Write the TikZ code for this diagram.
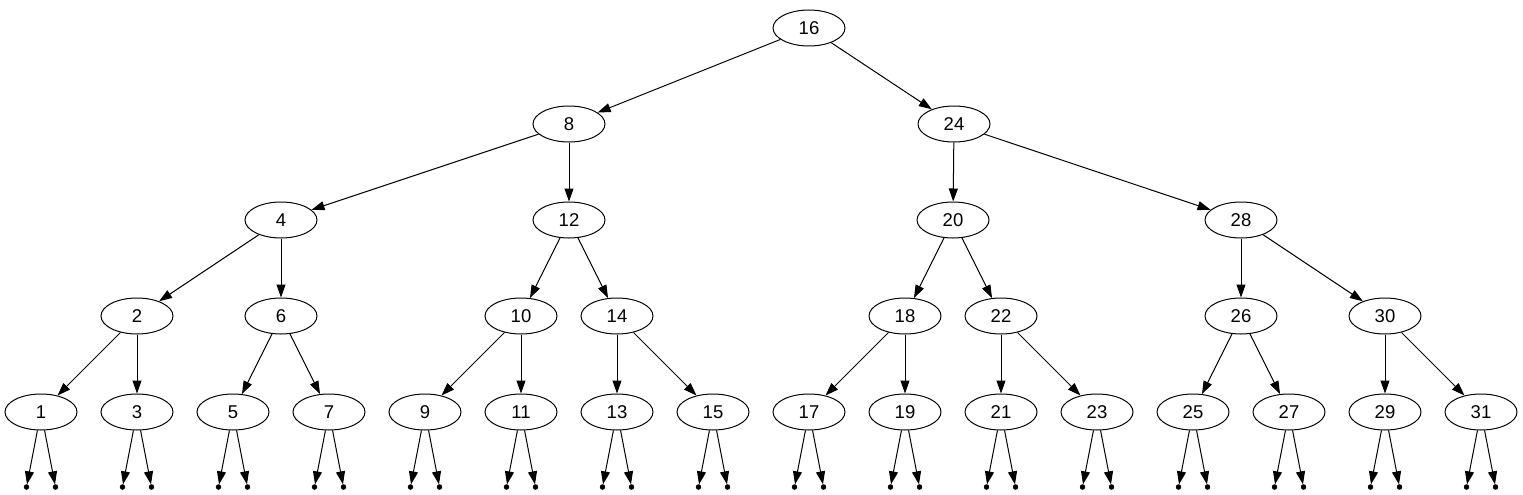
\documentclass[tikz,border=0pt]{standalone}
\usepackage{fontspec}
\setmainfont{Liberation Sans}
\usetikzlibrary{arrows.meta,shapes.geometric}

\tikzset{
  key/.style={ellipse, draw, line width=1pt, minimum width=72pt, minimum height=36pt, inner sep=0pt, font=\fontsize{18.5pt}{21pt}\selectfont},
  nil/.style={circle, fill, draw, inner sep=0pt, minimum size=5pt},
  edge/.style={line width=1pt, -{Triangle[length=13pt,width=9pt]}}
}

\begin{document}
\begin{tikzpicture}[x=1pt, y=1pt]
\useasboundingbox (0,0) rectangle (1523,-495);

% root and inner keys
\node[key] (n16) at (809,-28) {16};

\node[key] (n8) at (569,-124) {8};
\node[key] (n24) at (954,-124) {24};

\node[key] (n4) at (281,-220) {4};
\node[key] (n12) at (569,-220) {12};
\node[key] (n20) at (953,-220) {20};
\node[key] (n28) at (1241,-220) {28};

\node[key] (n2) at (137,-316) {2};
\node[key] (n6) at (281,-316) {6};
\node[key] (n10) at (521,-316) {10};
\node[key] (n14) at (617,-316) {14};
\node[key] (n18) at (905,-316) {18};
\node[key] (n22) at (1001,-316) {22};
\node[key] (n26) at (1241,-316) {26};
\node[key] (n30) at (1385,-316) {30};

\node[key] (n1) at (41,-412) {1};
\node[key] (n3) at (137,-412) {3};
\node[key] (n5) at (233,-412) {5};
\node[key] (n7) at (329,-412) {7};
\node[key] (n9) at (425,-412) {9};
\node[key] (n11) at (521,-412) {11};
\node[key] (n13) at (617,-412) {13};
\node[key] (n15) at (713,-412) {15};
\node[key] (n17) at (809,-412) {17};
\node[key] (n19) at (905,-412) {19};
\node[key] (n21) at (1001,-412) {21};
\node[key] (n23) at (1097,-412) {23};
\node[key] (n25) at (1193,-412) {25};
\node[key] (n27) at (1289,-412) {27};
\node[key] (n29) at (1385,-412) {29};
\node[key] (n31) at (1481,-412) {31};

\draw[edge] (n16) -- (n8);
\draw[edge] (n16) -- (n24);

\draw[edge] (n8) -- (n4);
\draw[edge] (n8) -- (n12);
\draw[edge] (n24) -- (n20);
\draw[edge] (n24) -- (n28);

\draw[edge] (n4) -- (n2);
\draw[edge] (n4) -- (n6);
\draw[edge] (n12) -- (n10);
\draw[edge] (n12) -- (n14);
\draw[edge] (n20) -- (n18);
\draw[edge] (n20) -- (n22);
\draw[edge] (n28) -- (n26);
\draw[edge] (n28) -- (n30);

\draw[edge] (n2) -- (n1);
\draw[edge] (n2) -- (n3);
\draw[edge] (n6) -- (n5);
\draw[edge] (n6) -- (n7);
\draw[edge] (n10) -- (n9);
\draw[edge] (n10) -- (n11);
\draw[edge] (n14) -- (n13);
\draw[edge] (n14) -- (n15);
\draw[edge] (n18) -- (n17);
\draw[edge] (n18) -- (n19);
\draw[edge] (n22) -- (n21);
\draw[edge] (n22) -- (n23);
\draw[edge] (n26) -- (n25);
\draw[edge] (n26) -- (n27);
\draw[edge] (n30) -- (n29);
\draw[edge] (n30) -- (n31);

% empty children of the leaves
\foreach \k/\x in {1/41,3/137,5/233,7/329,9/425,11/521,13/617,15/713,17/809,19/905,21/1001,23/1097,25/1193,27/1289,29/1385,31/1481} {
  \node[nil] (l\k) at (\x-14.5,-487) {};
  \node[nil] (r\k) at (\x+14.5,-487) {};
  \draw[edge] (n\k) -- (l\k);
  \draw[edge] (n\k) -- (r\k);
}

\end{tikzpicture}
\end{document}
